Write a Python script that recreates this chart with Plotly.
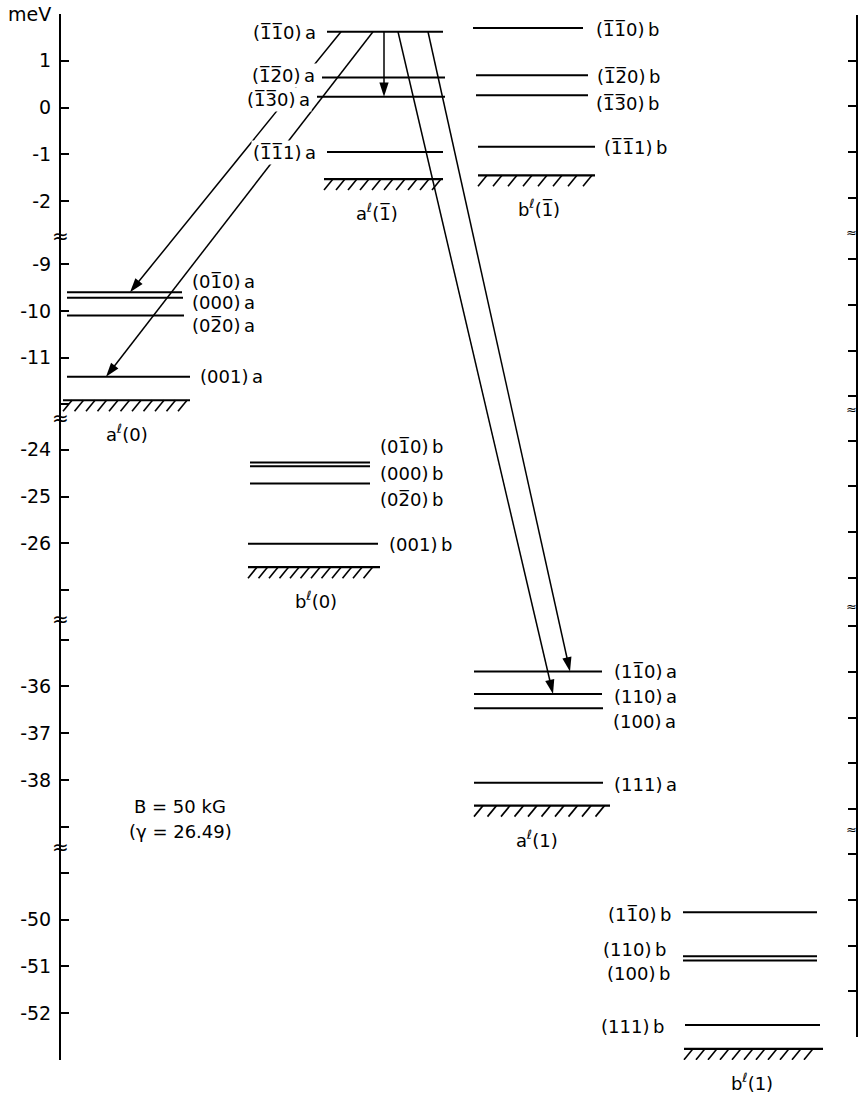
import plotly.graph_objects as go

OB = "\u0305"  # combining overbar for negative indices

# ---------------- data ----------------
# broken energy axis: displayed pieces (meV), top and bottom of each piece
SEG_TOP = [2.0, -8.4, -23.32, -34.56, -48.45]
SEG_BOT = [-2.75, -12.29, -27.62, -39.44, -53.0]

TICK_VALUES = [2, 1, 0, -1, -2, -9, -10, -11, -12, -24, -25, -26, -27,
               -35, -36, -37, -38, -39, -49, -50, -51, -52, -53]
TICK_TEXT = ["meV", "1", "0", "-1", "-2", "-9", "-10", "-11", " ", "-24", "-25", "-26", " ",
             " ", "-36", "-37", "-38", " ", " ", "-50", "-51", "-52", " "]

A1BAR_LABELS = [f"(1{OB}1{OB}0)a", f"(1{OB}2{OB}0)a", f"(1{OB}3{OB}0)a", f"(1{OB}1{OB}1)a"]
A1BAR_E = [1.62, 0.64, 0.23, -0.95]
B1BAR_LABELS = [f"(1{OB}1{OB}0)b", f"(1{OB}2{OB}0)b", f"(1{OB}3{OB}0)b", f"(1{OB}1{OB}1)b"]
B1BAR_E = [1.70, 0.69, 0.26, -0.84]
A0_LABELS = [f"(01{OB}0)a", "(000)a", f"(02{OB}0)a", "(001)a"]
A0_E = [-9.60, -9.72, -10.10, -11.41]
B0_LABELS = [f"(01{OB}0)b", "(000)b", f"(02{OB}0)b", "(001)b"]
B0_E = [-24.27, -24.35, -24.72, -26.01]
A1_LABELS = [f"(11{OB}0)a", "(110)a", "(100)a", "(111)a"]
A1_E = [-35.68, -36.16, -36.47, -38.06]
B1_LABELS = [f"(11{OB}0)b", "(110)b", "(100)b", "(111)b"]
B1_E = [-49.84, -50.78, -50.87, -52.25]

GROUND_LABELS = [f"a<sup>ℓ</sup>(1{OB})", f"b<sup>ℓ</sup>(1{OB})", "a<sup>ℓ</sup>(0)",
                 "b<sup>ℓ</sup>(0)", "a<sup>ℓ</sup>(1)", "b<sup>ℓ</sup>(1)"]
GROUND_E = [-1.53, -1.45, -11.91, -26.51, -38.55, -52.76]

TRANS_FROM = [f"(1{OB}1{OB}0)a"] * 5
TRANS_TO = [f"(01{OB}0)a", "(001)a", f"(1{OB}3{OB}0)a", "(110)a", f"(11{OB}0)a"]

FIELD_TEXT = ["B = 50 kG", "(γ = 26.49)"]

# ---------------- layout / style (pixel positions along x) ----------------
W, H = 860, 1093
MT, MB = 14, 33
PLOT_H = H - MT - MB
FONT = "DejaVu Sans"

GROUPS = [
    # labels, energies, line x0, line x1, label x, label anchor, label yshift(px), label bg
    (A1BAR_LABELS, A1BAR_E, [327, 322, 317, 327], [443, 445, 445, 443], [318, 317, 312, 318], "right", [-1, 2, -3, -1], True),
    (B1BAR_LABELS, B1BAR_E, [473, 476, 476, 478], [583, 588, 588, 595], [594, 595, 594, 602], "left", [-1, -1, -8, -1], False),
    (A0_LABELS, A0_E, [67, 67, 67, 67], [182, 183, 184, 190], [190, 190, 190, 198], "left", [11, -5, -10, 0], False),
    (B0_LABELS, B0_E, [250, 250, 250, 248], [370, 370, 370, 378], [378, 378, 378, 387], "left", [16, -7, -16, -1], False),
    (A1_LABELS, A1_E, [474, 474, 474, 474], [602, 602, 603, 603], [612, 612, 611, 612], "left", [0, -3, -13, -2], False),
    (B1_LABELS, B1_E, [683, 683, 683, 685], [817, 817, 817, 820], [673, 668, 672, 666], "right", [-2, 7, -13, -2], False),
]
GROUND_X0 = [324, 478, 63, 248, 474, 684]
GROUND_X1 = [443, 595, 190, 380, 610, 823]
GROUND_STEP = [12, 15, 11.5, 10.5, 13.5, 12]
GROUND_LABEL_X = [377, 539, 127, 316, 537, 752]
TRANS_X0 = [341, 373, 384, 398, 428]
TRANS_X1 = [130, 106, 384, 553, 570]

TOTAL = sum(t - b for t, b in zip(SEG_TOP, SEG_BOT))
PX = PLOT_H / TOTAL  # pixels per display unit


def to_d(v):
    off = 0.0
    for top, bot in zip(SEG_TOP, SEG_BOT):
        if bot - 1e-9 <= v <= top + 1e-9:
            return off + (top - v)
        off += top - bot
    raise ValueError(v)


def px_to_d(y):
    return (y - MT) / PX


fig = go.Figure()
annotations = []

# energy levels
lx, ly = [], []
energy = {}
for labels, es, x0s, x1s, lxs, anchor, shifts, bg in GROUPS:
    for lab, e, x0, x1, tx, sh in zip(labels, es, x0s, x1s, lxs, shifts):
        energy[lab] = e
        d = to_d(e)
        lx += [x0, x1, None]
        ly += [d, d, None]
        annotations.append(dict(
            x=tx, y=d, xref="x", yref="y", text=lab[:-1] + "\u2009" + lab[-1],
            xanchor=anchor, yanchor="middle", yshift=sh, showarrow=False,
            font=dict(family=FONT, size=18, color="black"),
            bgcolor="white" if bg else None, borderpad=1))
fig.add_trace(go.Scatter(x=lx, y=ly, mode="lines", line=dict(color="black", width=2),
                         hoverinfo="skip", showlegend=False))

# ground (continuum edge) levels with hatching
gx, gy, hx, hy = [], [], [], []
for lab, e, x0, x1, step, cx in zip(GROUND_LABELS, GROUND_E, GROUND_X0, GROUND_X1,
                                     GROUND_STEP, GROUND_LABEL_X):
    d = to_d(e)
    gx += [x0, x1, None]
    gy += [d, d, None]
    xt = x0 + 9
    while xt <= x1 + 0.5:
        hx += [xt, xt - 9, None]
        hy += [d, d + 11 / PX, None]
        xt += step
    annotations.append(dict(
        x=cx, y=d, xref="x", yref="y", text=lab, xanchor="center", yanchor="middle",
        yshift=-33, showarrow=False, font=dict(family=FONT, size=18, color="black")))
fig.add_trace(go.Scatter(x=gx, y=gy, mode="lines", line=dict(color="black", width=2.2),
                         hoverinfo="skip", showlegend=False))
fig.add_trace(go.Scatter(x=hx, y=hy, mode="lines", line=dict(color="black", width=1.6),
                         hoverinfo="skip", showlegend=False))

# transitions (arrows)
for fr, to, xa, xb in zip(TRANS_FROM, TRANS_TO, TRANS_X0, TRANS_X1):
    fig.add_trace(go.Scatter(
        x=[xa, xb], y=[to_d(energy[fr]), to_d(energy[to])], mode="lines+markers",
        line=dict(color="black", width=1.5),
        marker=dict(symbol="arrow", size=[0, 15], angleref="previous", color="black",
                    opacity=1, line=dict(width=0)),
        hoverinfo="skip", showlegend=False))

# dummy trace for the right-hand frame axis
fig.add_trace(go.Scatter(x=[None], y=[None], yaxis="y2", showlegend=False, hoverinfo="skip"))

# axis break marks
bounds = []
acc = 0.0
for t, b in zip(SEG_TOP[:-1], SEG_BOT[:-1]):
    acc += t - b
    bounds.append(acc)
for bd in bounds:
    annotations.append(dict(x=60, y=bd, xref="x", yref="y", text="≈", showarrow=False,
                            xanchor="center", yanchor="middle",
                            font=dict(family=FONT, size=20, color="black")))
    annotations.append(dict(x=851, y=bd, xref="x", yref="y2", text="≈", showarrow=False,
                            xanchor="center", yanchor="middle", borderpad=0,
                            font=dict(family=FONT, size=13, color="black")))

# field text
for i, t in enumerate(FIELD_TEXT):
    annotations.append(dict(x=180, y=px_to_d(806 + 25 * i), xref="x", yref="y", text=t,
                            showarrow=False, xanchor="center", yanchor="middle",
                            font=dict(family=FONT, size=18, color="black")))

tickd = [to_d(v) for v in TICK_VALUES]
R_TOP, R_BOT = 15, 1037
fig.update_layout(
    width=W, height=H, margin=dict(l=0, r=0, t=MT, b=MB),
    paper_bgcolor="white", plot_bgcolor="rgba(0,0,0,0)", showlegend=False,
    xaxis=dict(range=[0, W], visible=False, fixedrange=True),
    yaxis=dict(range=[TOTAL, 0], anchor="free", position=60 / W, showline=True,
               linecolor="black", linewidth=2, ticks="inside", ticklen=8, tickwidth=1.8,
               tickcolor="black", tickvals=tickd, ticktext=TICK_TEXT, showgrid=False,
               zeroline=False, ticklabelstandoff=4,
               tickfont=dict(family=FONT, size=19, color="black")),
    yaxis2=dict(range=[TOTAL, 0], anchor="free", position=857 / W, side="right",
                domain=[(H - MB - R_BOT) / PLOT_H, (H - MB - R_TOP) / PLOT_H],
                showline=True, linecolor="black", linewidth=2, ticks="inside", ticklen=8,
                tickwidth=1.8, tickcolor="black", tickvals=tickd, showticklabels=False,
                showgrid=False, zeroline=False),
    annotations=annotations,
)

fig.write_html("out.html")
